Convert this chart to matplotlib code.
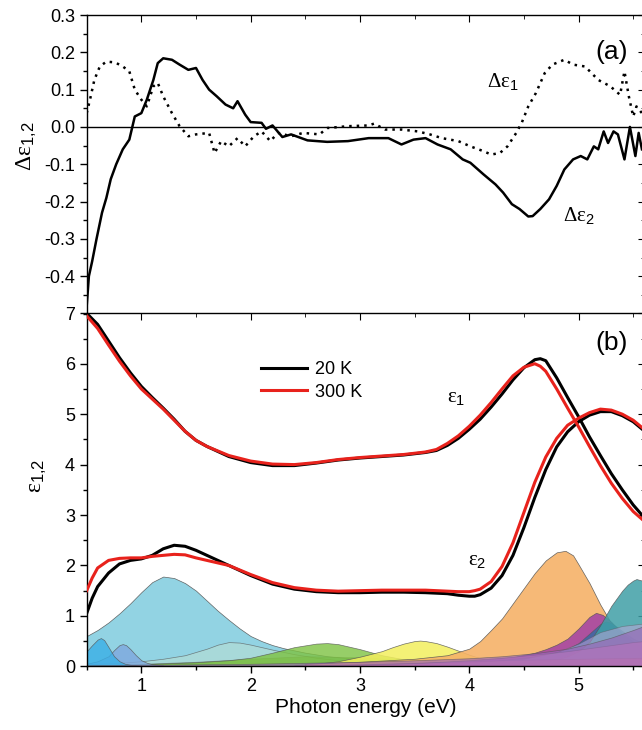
import numpy as np
import matplotlib
matplotlib.use('Agg')
import matplotlib.pyplot as plt
from matplotlib.ticker import MultipleLocator

plt.rcParams['font.family'] = ['Liberation Sans', 'DejaVu Sans']
plt.rcParams['mathtext.fontset'] = 'custom'
plt.rcParams['mathtext.rm'] = 'Liberation Serif'
plt.rcParams['mathtext.sf'] = 'Liberation Sans'
plt.rcParams['mathtext.default'] = 'rm'

# ---- panel (a): difference spectra ----
d2_e = [0.5, 0.52, 0.55, 0.59, 0.64, 0.68, 0.72, 0.77, 0.83, 0.89, 0.94, 1.0, 1.05, 1.11, 1.15,
        1.2, 1.28, 1.35, 1.43, 1.5, 1.56, 1.62, 1.69, 1.77, 1.84, 1.88, 1.95, 2.0, 2.1, 2.14,
        2.2, 2.29, 2.37, 2.52, 2.7, 2.89, 3.08, 3.26, 3.38, 3.49, 3.6, 3.71, 3.83, 3.94, 4.01,
        4.13, 4.24, 4.31, 4.39, 4.46, 4.54, 4.58, 4.65, 4.73, 4.8, 4.87, 4.95, 5.02, 5.08, 5.14,
        5.18, 5.23, 5.27, 5.32, 5.36, 5.42, 5.47, 5.52, 5.55, 5.58]
d2_v = [-0.48, -0.40, -0.36, -0.30, -0.23, -0.19, -0.14, -0.10, -0.06, -0.034, 0.028, 0.037, 0.073,
        0.126, 0.171, 0.184, 0.18, 0.167, 0.153, 0.158, 0.126, 0.10, 0.082, 0.06, 0.05, 0.069,
        0.033, 0.013, 0.011, -0.005, 0.004, -0.027, -0.02, -0.036, -0.04, -0.038, -0.03, -0.03,
        -0.047, -0.034, -0.03, -0.047, -0.06, -0.087, -0.096, -0.127, -0.154, -0.176, -0.207,
        -0.22, -0.24, -0.239, -0.22, -0.194, -0.158, -0.114, -0.087, -0.078, -0.087, -0.052,
        -0.06, -0.012, -0.043, -0.012, -0.02, -0.087, 0.0, -0.078, -0.016, -0.06]

d1_e = [0.5, 0.53, 0.57, 0.62, 0.68, 0.76, 0.83, 0.89, 0.94, 1.0, 1.05, 1.11, 1.15, 1.2, 1.28,
        1.35, 1.43, 1.5, 1.62, 1.67, 1.73, 1.8, 1.88, 1.95, 2.03, 2.1, 2.18, 2.25, 2.37, 2.48,
        2.63, 2.7, 2.89, 3.08, 3.13, 3.23, 3.38, 3.53, 3.64, 3.75, 3.9, 4.01, 4.13, 4.2, 4.28,
        4.35, 4.43, 4.48, 4.54, 4.61, 4.69, 4.76, 4.87, 4.95, 5.06, 5.18, 5.29, 5.38, 5.42,
        5.46, 5.5, 5.53, 5.58]
d1_v = [0.037, 0.073, 0.126, 0.162, 0.175, 0.173, 0.162, 0.149, 0.10, 0.073, 0.055, 0.109, 0.118,
        0.082, 0.037, 0.002, -0.025, -0.02, -0.016, -0.07, -0.038, -0.052, -0.03, -0.052, -0.025,
        -0.012, -0.038, -0.016, -0.025, -0.016, -0.02, -0.003, 0.002, 0.004, 0.009, -0.007,
        -0.007, -0.012, -0.02, -0.03, -0.038, -0.052, -0.065, -0.074, -0.07, -0.052, -0.016,
        0.011, 0.055, 0.091, 0.144, 0.167, 0.18, 0.167, 0.162, 0.126, 0.109, 0.086, 0.149,
        0.082, 0.028, 0.055, 0.037]

# ---- panel (b): dielectric function ----
e1_e = [0.5, 0.6, 0.7, 0.8, 0.9, 1.0, 1.1, 1.2, 1.3, 1.4, 1.5, 1.6, 1.8, 2.0, 2.2, 2.4, 2.6,
        2.8, 3.0, 3.2, 3.4, 3.6, 3.7, 3.8, 3.9, 4.0, 4.1, 4.2, 4.3, 4.4, 4.5, 4.6, 4.65, 4.7,
        4.8, 4.9, 5.0, 5.1, 5.2, 5.3, 5.4, 5.5, 5.6]
e1_20k = [7.0, 6.78, 6.45, 6.12, 5.82, 5.55, 5.33, 5.12, 4.9, 4.66, 4.48, 4.36, 4.16, 4.04, 3.98,
          3.98, 4.03, 4.09, 4.13, 4.16, 4.19, 4.24, 4.28, 4.38, 4.52, 4.7, 4.9, 5.14, 5.4, 5.68,
          5.92, 6.08, 6.1, 6.06, 5.72, 5.33, 4.95, 4.55, 4.18, 3.82, 3.5, 3.2, 2.95]
e1_300k = [6.95, 6.7, 6.37, 6.05, 5.76, 5.5, 5.3, 5.1, 4.88, 4.66, 4.48, 4.36, 4.18, 4.07, 4.01,
           4.0, 4.04, 4.1, 4.14, 4.17, 4.2, 4.25, 4.3, 4.42, 4.57, 4.76, 4.98, 5.23, 5.5, 5.76,
           5.93, 6.0, 5.95, 5.85, 5.5, 5.12, 4.75, 4.36, 3.98, 3.63, 3.33, 3.07, 2.88]

e2_e = [0.5, 0.55, 0.6, 0.7, 0.8, 0.9, 1.0, 1.1, 1.2, 1.3, 1.4, 1.5, 1.6, 1.8, 2.0, 2.2, 2.4,
        2.6, 2.8, 3.0, 3.2, 3.4, 3.6, 3.8, 3.9, 4.0, 4.05, 4.1, 4.2, 4.3, 4.4, 4.5, 4.6, 4.7,
        4.8, 4.9, 5.0, 5.1, 5.2, 5.3, 5.4, 5.5, 5.6]
e2_20k = [1.05, 1.35, 1.58, 1.85, 2.03, 2.1, 2.13, 2.2, 2.33, 2.4, 2.38, 2.3, 2.2, 2.0, 1.8, 1.63,
          1.53, 1.48, 1.46, 1.46, 1.47, 1.47, 1.46, 1.44, 1.41, 1.39, 1.39, 1.42, 1.55, 1.8, 2.2,
          2.75, 3.35, 3.9, 4.35, 4.65, 4.85, 4.98, 5.05, 5.05, 4.97, 4.85, 4.67]
e2_300k = [1.5, 1.75, 1.95, 2.1, 2.14, 2.15, 2.15, 2.18, 2.2, 2.22, 2.21, 2.15, 2.1, 2.0, 1.82,
           1.66, 1.56, 1.51, 1.49, 1.5, 1.51, 1.51, 1.51, 1.49, 1.48, 1.48, 1.5, 1.53, 1.68, 1.98,
           2.45, 3.05, 3.65, 4.15, 4.52, 4.78, 4.92, 5.03, 5.1, 5.08, 5.0, 4.88, 4.7]

# oscillator contributions (20 K fit)
osc_c_e = [0.5, 0.6, 0.7, 0.8, 0.9, 1.0, 1.1, 1.2, 1.3, 1.4, 1.5, 1.6, 1.7, 1.8, 1.9, 2.0, 2.1,
           2.2, 2.3, 2.5, 2.7, 3.0, 3.5, 4.0]
osc_c_v = [0.6, 0.72, 0.87, 1.05, 1.25, 1.47, 1.67, 1.78, 1.75, 1.65, 1.5, 1.3, 1.1, 0.92, 0.75,
           0.6, 0.5, 0.42, 0.36, 0.27, 0.2, 0.14, 0.08, 0.05]
osc_d_e = [0.5, 0.8, 1.0, 1.2, 1.4, 1.6, 1.7, 1.8, 1.9, 2.0, 2.2, 2.4, 2.6, 2.8, 3.0, 3.5, 4.0]
osc_d_v = [0.04, 0.07, 0.1, 0.15, 0.22, 0.35, 0.43, 0.48, 0.47, 0.43, 0.33, 0.24, 0.17, 0.12,
           0.09, 0.05, 0.03]
osc_olive_e = [0.5, 1.0, 1.5, 2.0, 2.5, 3.0, 3.5, 4.0, 4.5, 5.0]
osc_olive_v = [0.02, 0.05, 0.09, 0.15, 0.2, 0.18, 0.12, 0.07, 0.04, 0.02]
osc_g_e = [0.5, 1.0, 1.5, 1.8, 2.0, 2.2, 2.4, 2.6, 2.7, 2.8, 3.0, 3.2, 3.4, 3.6, 3.8, 4.0, 4.5]
osc_g_v = [0.02, 0.04, 0.08, 0.12, 0.17, 0.27, 0.38, 0.45, 0.46, 0.44, 0.34, 0.22, 0.14, 0.09,
           0.06, 0.04, 0.02]
osc_y_e = [2.4, 2.6, 2.8, 3.0, 3.2, 3.3, 3.4, 3.5, 3.55, 3.6, 3.7, 3.8, 3.9, 4.0, 4.1, 4.2, 4.4]
osc_y_v = [0.02, 0.05, 0.1, 0.19, 0.3, 0.38, 0.45, 0.5, 0.51, 0.5, 0.46, 0.39, 0.31, 0.23, 0.16,
           0.1, 0.04]
osc_o_e = [2.5, 3.0, 3.5, 3.8, 4.0, 4.1, 4.2, 4.3, 4.4, 4.5, 4.6, 4.7, 4.8, 4.88, 4.95, 5.0, 5.1,
           5.2, 5.3, 5.4, 5.5, 5.6]
osc_o_v = [0.05, 0.09, 0.15, 0.22, 0.35, 0.5, 0.72, 0.95, 1.25, 1.55, 1.85, 2.1, 2.26, 2.29, 2.2,
           2.02, 1.65, 1.22, 0.85, 0.56, 0.4, 0.3]
osc_m_e = [3.5, 4.0, 4.4, 4.6, 4.7, 4.8, 4.9, 5.0, 5.1, 5.16, 5.22, 5.3, 5.4, 5.5, 5.6]
osc_m_v = [0.04, 0.1, 0.18, 0.27, 0.34, 0.43, 0.55, 0.75, 0.98, 1.06, 1.02, 0.88, 0.65, 0.48, 0.38]
osc_db_e = [3.8, 4.2, 4.6, 4.8, 4.9, 5.0, 5.1, 5.2, 5.25, 5.3, 5.4, 5.5, 5.6]
osc_db_v = [0.05, 0.1, 0.2, 0.28, 0.35, 0.46, 0.65, 0.84, 0.89, 0.86, 0.7, 0.55, 0.45]
osc_t_e = [4.3, 4.6, 4.8, 4.9, 5.0, 5.1, 5.2, 5.3, 5.4, 5.45, 5.5, 5.53, 5.58, 5.6]
osc_t_v = [0.03, 0.07, 0.13, 0.2, 0.3, 0.48, 0.82, 1.2, 1.5, 1.62, 1.7, 1.73, 1.7, 1.68]
osc_lav_e = [3.5, 4.0, 4.5, 4.8, 5.0, 5.2, 5.4, 5.6]
osc_lav_v = [0.04, 0.08, 0.15, 0.28, 0.45, 0.68, 0.8, 0.85]
osc_b_e = [0.5, 0.6, 0.7, 0.75, 0.8, 0.83, 0.86, 0.9, 0.95, 1.0, 1.05, 1.1, 1.2]
osc_b_v = [0.05, 0.1, 0.2, 0.32, 0.42, 0.44, 0.42, 0.34, 0.22, 0.12, 0.07, 0.04, 0.02]
osc_a_e = [0.5, 0.55, 0.6, 0.63, 0.66, 0.7, 0.75, 0.8, 0.85, 0.9, 1.0]
osc_a_v = [0.3, 0.42, 0.53, 0.56, 0.52, 0.38, 0.2, 0.1, 0.05, 0.03, 0.01]
osc_red_e = [2.0, 2.5, 3.0, 3.5, 4.0, 4.5, 5.0, 5.6]
osc_red_v = [0.0, 0.02, 0.04, 0.07, 0.1, 0.13, 0.15, 0.17]
osc_pink_e = [2.5, 3.0, 3.5, 4.0, 4.3, 4.6, 4.9, 5.1, 5.3, 5.5, 5.6]
osc_pink_v = [0.01, 0.03, 0.06, 0.12, 0.17, 0.23, 0.3, 0.36, 0.42, 0.48, 0.5]
osc_bg_e = [0.5, 1.0, 1.5, 2.0, 2.5, 3.0, 3.5, 4.0, 4.3, 4.6, 4.9, 5.1, 5.3, 5.5, 5.6]
osc_bg_v = [0.02, 0.03, 0.04, 0.05, 0.07, 0.09, 0.12, 0.16, 0.2, 0.26, 0.35, 0.45, 0.57, 0.72, 0.8]

# drawing order: first listed is at the back
oscillators = [
    (osc_c_e, osc_c_v, '#86cfe0', 0.9),
    (osc_d_e, osc_d_v, '#b2dcd6', 0.7),
    (osc_olive_e, osc_olive_v, '#6aa23c', 0.5),
    (osc_g_e, osc_g_v, '#7dc242', 0.8),
    (osc_y_e, osc_y_v, '#f3ef5e', 0.85),
    (osc_o_e, osc_o_v, '#f5b268', 0.9),
    (osc_m_e, osc_m_v, '#a23fa6', 0.85),
    (osc_db_e, osc_db_v, '#1f6fa3', 0.7),
    (osc_t_e, osc_t_v, '#3f9fa6', 0.85),
    (osc_lav_e, osc_lav_v, '#c6a6dc', 0.5),
    (osc_b_e, osc_b_v, '#7ea8de', 0.8),
    (osc_a_e, osc_a_v, '#3aafe6', 0.8),
    (osc_red_e, osc_red_v, '#ef6f78', 0.6),
    (osc_pink_e, osc_pink_v, '#f08dc4', 0.6),
    (osc_bg_e, osc_bg_v, '#9866b6', 0.65),
]

fig = plt.figure(figsize=(6.42, 7.3), dpi=100)
left = 86.7 / 642
width = (645 - 86.7) / 642
ax_a = fig.add_axes([left, 1 - 313.5 / 730, width, 298.5 / 730])
ax_b = fig.add_axes([left, 1 - 666.3 / 730, width, 353 / 730], sharex=ax_a)

# panel (a)
ax_a.axhline(0, color='black', lw=1.0, zorder=1)
ax_a.plot(d1_e, d1_v, color='black', lw=1.8, linestyle=(0, (1, 2)), zorder=2)
ax_a.plot(d2_e, d2_v, color='black', lw=1.8, zorder=3)
ax_a.set_ylim(-0.5, 0.3)
ax_a.yaxis.set_minor_locator(MultipleLocator(0.05))
ax_a.set_yticks([-0.4, -0.3, -0.2, -0.1, 0.0, 0.1, 0.2, 0.3])
ax_a.set_yticklabels(['-0.4', '-0.3', '-0.2', '-0.1', '0.0', '0.1', '0.2', '0.3'])
ax_a.set_ylabel(r'$\Delta\varepsilon_{\mathsf{1{,}2}}$', fontsize=17)
ax_a.yaxis.set_label_coords(-0.085, 0.56)
ax_a.tick_params(labelbottom=False)
ax_a.text(0.941, 0.876, '(a)', transform=ax_a.transAxes, fontsize=19, ha='center', va='center')
ax_a.text(0.746, 0.776, r'$\Delta\varepsilon_{\mathsf{1}}$', transform=ax_a.transAxes,
          fontsize=15, ha='center', va='center')
ax_a.text(0.882, 0.329, r'$\Delta\varepsilon_{\mathsf{2}}$', transform=ax_a.transAxes,
          fontsize=15, ha='center', va='center')

# panel (b)
for e, v, c, a in oscillators:
    ax_b.fill_between(e, 0, v, facecolor=c, alpha=a, edgecolor='#555555', lw=0.5, zorder=1)
ax_b.plot(e1_e, e1_20k, color='black', lw=2.2, zorder=3, label='20 K')
ax_b.plot(e1_e, e1_300k, color='#e8221c', lw=2.2, zorder=4, label='300 K')
ax_b.plot(e2_e, e2_20k, color='black', lw=2.2, zorder=3)
ax_b.plot(e2_e, e2_300k, color='#e8221c', lw=2.2, zorder=4)
ax_b.set_ylim(0, 7)
ax_b.set_xlim(0.5, 0.5 + 558.3 / 109.3)
ax_b.yaxis.set_major_locator(MultipleLocator(1))
ax_b.yaxis.set_minor_locator(MultipleLocator(0.5))
ax_b.xaxis.set_major_locator(MultipleLocator(1))
ax_b.xaxis.set_minor_locator(MultipleLocator(0.5))
ax_b.set_xlabel('Photon energy (eV)', fontsize=15, labelpad=2)
ax_b.set_ylabel(r'$\varepsilon_{\mathsf{1{,}2}}$', fontsize=17)
ax_b.yaxis.set_label_coords(-0.068, 0.54)
ax_b.text(0.941, 0.916, '(b)', transform=ax_b.transAxes, fontsize=19, ha='center', va='center')
ax_b.text(0.661, 0.762, r'$\varepsilon_{\mathsf{1}}$', transform=ax_b.transAxes,
          fontsize=15, ha='center', va='center')
ax_b.text(0.699, 0.301, r'$\varepsilon_{\mathsf{2}}$', transform=ax_b.transAxes,
          fontsize=15, ha='center', va='center')
ax_b.legend(loc='upper left', bbox_to_anchor=(0.3, 0.885), frameon=False, fontsize=13,
            handlelength=2.5, handletextpad=0.45, labelspacing=0.3, borderaxespad=0)

for ax in (ax_a, ax_b):
    ax.tick_params(which='both', direction='out', labelsize=13, width=1, top=False, right=False)
    ax.tick_params(which='major', length=5)
    ax.tick_params(which='minor', length=3)
    for s in ax.spines.values():
        s.set_linewidth(1.0)
    # inward ticks on the mirrored top/right sides
    sec = ax.secondary_xaxis('top')
    sec.tick_params(which='both', direction='in', labeltop=False)
    sec.xaxis.set_major_locator(MultipleLocator(1))
    sec.xaxis.set_minor_locator(MultipleLocator(0.5))
    sec.tick_params(which='major', length=5)
    sec.tick_params(which='minor', length=3)
    sec.spines['top'].set_visible(False)
    secy = ax.secondary_yaxis('right')
    secy.tick_params(which='both', direction='in', labelright=False)
    secy.yaxis.set_major_locator(ax.yaxis.get_major_locator())
    secy.yaxis.set_minor_locator(ax.yaxis.get_minor_locator())
    secy.tick_params(which='major', length=5)
    secy.tick_params(which='minor', length=3)

fig.savefig('out.png', dpi=100)
